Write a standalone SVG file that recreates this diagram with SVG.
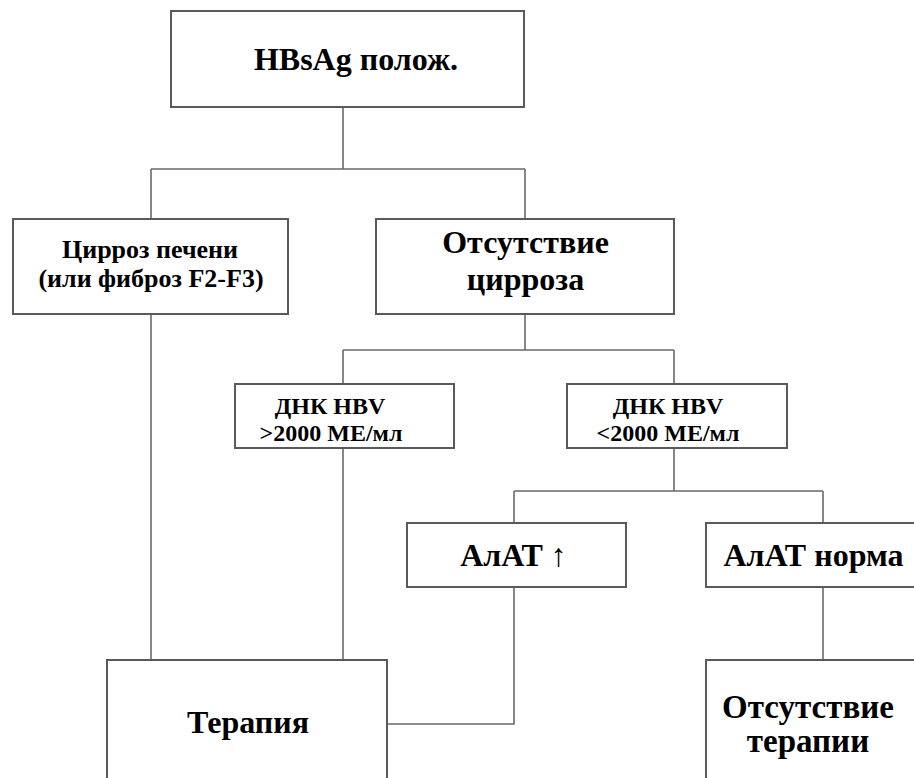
<svg xmlns="http://www.w3.org/2000/svg" width="914" height="778" viewBox="0 0 914 778">
<style>
.box{fill:#fff;stroke:#5a5a5a;stroke-width:2}
.ln{fill:none;stroke:#6a6a6a;stroke-width:1.6}
text{font-family:'Liberation Serif','Times New Roman','DejaVu Serif',serif;font-weight:700;fill:#000;text-anchor:middle}
</style>
<rect width="914" height="778" fill="#fff"/>
<g id="connectors">
<path class="ln" d="M343 107V169M151 169H525M151 169V219M525 169V219"/>
<path class="ln" d="M151 314V660"/>
<path class="ln" d="M525 314V350M343 350H674M343 350V384M674 350V384"/>
<path class="ln" d="M343 448V660"/>
<path class="ln" d="M674 448V491M514 491H823M514 491V523M823 491V523"/>
<path class="ln" d="M514 587V724H387"/>
<path class="ln" d="M823 587V660"/>
</g>
<g id="n_hbsag"><rect class="box" x="171" y="11" width="353" height="96"/><text x="356" y="70" font-size="32">HBsAg полож.</text></g>
<g id="n_cirrhosis"><rect class="box" x="13" y="219" width="275" height="95"/><text x="150" y="258" font-size="26">Цирроз печени</text><text x="151" y="287" font-size="26">(или фиброз F2-F3)</text></g>
<g id="n_nocirrhosis"><rect class="box" x="376" y="219" width="298" height="95"/><text x="525.5" y="253" font-size="32">Отсутствие</text><text x="525.5" y="290" font-size="32">цирроза</text></g>
<g id="n_dna_high"><rect class="box" x="235" y="384" width="219" height="64"/><text x="330" y="414" font-size="24">ДНК HBV</text><text x="331" y="441" font-size="24">&gt;2000 МЕ/мл</text></g>
<g id="n_dna_low"><rect class="box" x="567" y="384" width="220" height="64"/><text x="668" y="414" font-size="24">ДНК HBV</text><text x="668" y="441" font-size="24">&lt;2000 МЕ/мл</text></g>
<g id="n_alt_up"><rect class="box" x="407" y="523" width="219" height="64"/><text x="513.5" y="566" font-size="32">АлАТ ↑</text></g>
<g id="n_alt_norm"><rect class="box" x="706" y="523" width="220" height="64"/><text x="813.5" y="566" font-size="32">АлАТ норма</text></g>
<g id="n_therapy"><rect class="box" x="107" y="660" width="280" height="130"/><text x="248" y="733" font-size="32">Терапия</text></g>
<g id="n_notherapy"><rect class="box" x="706" y="660" width="220" height="130"/><text x="808" y="718" font-size="33">Отсутствие</text><text x="808" y="752" font-size="33">терапии</text></g>
</svg>
